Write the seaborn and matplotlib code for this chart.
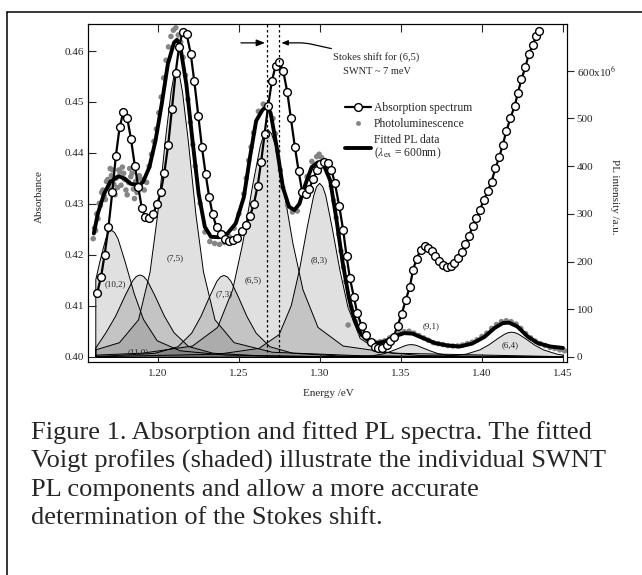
import matplotlib
matplotlib.use("Agg")
import matplotlib.pyplot as plt
import seaborn as sns
from matplotlib.lines import Line2D

# absorption spectrum (open circles, left axis)
abs_energy = [1.1625, 1.1648, 1.1670, 1.1694, 1.1718, 1.1740, 1.1763, 1.1786, 1.1810, 1.1833,
              1.1857, 1.1878, 1.1900, 1.1922, 1.1944, 1.1968, 1.1994, 1.2017, 1.2039, 1.2063,
              1.2086, 1.2109, 1.2130, 1.2152, 1.2177, 1.2202, 1.2224, 1.2249, 1.2271, 1.2294,
              1.2316, 1.2337, 1.2362, 1.2387, 1.2411, 1.2436, 1.2461, 1.2486, 1.2516, 1.2543,
              1.2568, 1.2592, 1.2615, 1.2637, 1.2658, 1.2680, 1.2703, 1.2726, 1.2748, 1.2773,
              1.2798, 1.2820, 1.2845, 1.2868, 1.2890, 1.2912, 1.2934, 1.2957, 1.2980, 1.3003,
              1.3026, 1.3049, 1.3071, 1.3092, 1.3119, 1.3143, 1.3164, 1.3185, 1.3209, 1.3230,
              1.3257, 1.3283, 1.3312, 1.3339, 1.3359, 1.3386, 1.3411, 1.3434, 1.3456, 1.3479,
              1.3504, 1.3530, 1.3555, 1.3575, 1.3596, 1.3621, 1.3646, 1.3670, 1.3692, 1.3713,
              1.3735, 1.3760, 1.3783, 1.3806, 1.3830, 1.3853, 1.3876, 1.3898, 1.3920, 1.3943,
              1.3966, 1.3988, 1.4011, 1.4036, 1.4059, 1.4083, 1.4108, 1.4128, 1.4151, 1.4176,
              1.4202, 1.4221, 1.4244, 1.4268, 1.4289, 1.4314, 1.4334, 1.4355]
abs_absorbance = [0.4126, 0.4156, 0.4199, 0.4254, 0.4323, 0.4394, 0.4450, 0.4480, 0.4469, 0.4428,
                  0.4375, 0.4334, 0.4292, 0.4274, 0.4272, 0.4280, 0.4299, 0.4323, 0.4361, 0.4416,
                  0.4486, 0.4557, 0.4608, 0.4638, 0.4633, 0.4595, 0.4541, 0.4473, 0.4412, 0.4359,
                  0.4314, 0.4280, 0.4254, 0.4241, 0.4231, 0.4228, 0.4229, 0.4234, 0.4246, 0.4259,
                  0.4276, 0.4300, 0.4335, 0.4383, 0.4437, 0.4492, 0.4541, 0.4571, 0.4578, 0.4561,
                  0.4520, 0.4469, 0.4412, 0.4365, 0.4324, 0.4320, 0.4330, 0.4348, 0.4366, 0.4378,
                  0.4383, 0.4380, 0.4366, 0.4341, 0.4296, 0.4249, 0.4198, 0.4154, 0.4118, 0.4086,
                  0.4061, 0.4043, 0.4030, 0.4020, 0.4017, 0.4017, 0.4024, 0.4031, 0.4040, 0.4061,
                  0.4084, 0.4112, 0.4138, 0.4171, 0.4192, 0.4210, 0.4218, 0.4213, 0.4208, 0.4198,
                  0.4189, 0.4180, 0.4176, 0.4178, 0.4185, 0.4194, 0.4206, 0.4222, 0.4237, 0.4257,
                  0.4272, 0.4288, 0.4308, 0.4325, 0.4344, 0.4370, 0.4393, 0.4416, 0.4443, 0.4469,
                  0.4492, 0.4517, 0.4545, 0.4568, 0.4594, 0.4612, 0.4629, 0.4640]

# fitted PL curve (thick line, right axis)
fit_energy = [1.1604, 1.1629, 1.1667, 1.1705, 1.1756, 1.1794, 1.1832, 1.1883, 1.1908, 1.1947,
              1.1985, 1.2023, 1.2061, 1.2099, 1.2117, 1.2137, 1.2175, 1.2213, 1.2251, 1.2289,
              1.2327, 1.2378, 1.2429, 1.2480, 1.2530, 1.2568, 1.2606, 1.2645, 1.2670, 1.2695,
              1.2733, 1.2771, 1.2809, 1.2842, 1.2873, 1.2911, 1.2949, 1.2987, 1.3025, 1.3063,
              1.3101, 1.3139, 1.3178, 1.3216, 1.3254, 1.3304, 1.3355, 1.3406, 1.3457, 1.3520,
              1.3571, 1.3634, 1.3711, 1.3787, 1.3863, 1.3939, 1.4015, 1.4079, 1.4129, 1.4167,
              1.4218, 1.4282, 1.4345, 1.4421, 1.4500]
fit_pl = [259, 301, 342, 367, 379, 374, 363, 360, 367, 398,
          454, 530, 614, 659, 665, 652, 572, 454, 342, 273,
          252, 251, 259, 280, 335, 419, 495, 518, 525, 512,
          440, 356, 315, 308, 321, 363, 398, 408, 401, 370,
          290, 200, 125, 75, 47, 33, 29, 33, 43, 50,
          49, 40, 29, 24, 22, 28, 42, 61, 71, 72,
          64, 43, 29, 22, 19]

# measured photoluminescence (grey dots, right axis)
pl_energy = [1.1600, 1.1608, 1.1615, 1.1622, 1.1630, 1.1638, 1.1645, 1.1652, 1.1660, 1.1668,
             1.1675, 1.1682, 1.1690, 1.1698, 1.1705, 1.1712, 1.1720, 1.1728, 1.1735, 1.1742,
             1.1750, 1.1758, 1.1765, 1.1772, 1.1780, 1.1788, 1.1795, 1.1802, 1.1810, 1.1818,
             1.1825, 1.1832, 1.1840, 1.1848, 1.1855, 1.1862, 1.1870, 1.1878, 1.1885, 1.1892,
             1.1900, 1.1915, 1.1930, 1.1945, 1.1960, 1.1975, 1.1990, 1.2005, 1.2020, 1.2035,
             1.2050, 1.2065, 1.2080, 1.2095, 1.2110, 1.2125, 1.2140, 1.2155, 1.2170, 1.2185,
             1.2200, 1.2215, 1.2230, 1.2260, 1.2290, 1.2320, 1.2350, 1.2380, 1.2410, 1.2440,
             1.2470, 1.2500, 1.2530, 1.2545, 1.2560, 1.2575, 1.2590, 1.2620, 1.2650, 1.2680,
             1.2710, 1.2725, 1.2740, 1.2755, 1.2770, 1.2800, 1.2830, 1.2860, 1.2890, 1.2920,
             1.2950, 1.2980, 1.2995, 1.3010, 1.3025, 1.3040, 1.3070, 1.3085, 1.3100, 1.3115,
             1.3130, 1.3145, 1.3160, 1.3174, 1.3190, 1.3220, 1.3250, 1.3280, 1.3310, 1.3340,
             1.3370, 1.3400, 1.3430, 1.3460, 1.3490, 1.3520, 1.3550, 1.3580, 1.3610, 1.3640,
             1.3670, 1.3700, 1.3730, 1.3760, 1.3790, 1.3820, 1.3850, 1.3880, 1.3910, 1.3940,
             1.3970, 1.4000, 1.4030, 1.4060, 1.4090, 1.4120, 1.4150, 1.4180, 1.4210, 1.4240,
             1.4270, 1.4300, 1.4330, 1.4360, 1.4390, 1.4420, 1.4450, 1.4480, 1.4510]
pl_intensity = [248, 270, 265, 300, 290, 322, 318, 345, 350, 338,
                330, 368, 372, 355, 395, 380, 392, 362, 340, 375,
                355, 392, 388, 360, 398, 385, 372, 350, 340, 366,
                395, 378, 385, 352, 332, 368, 345, 375, 380, 358,
                372, 350, 366, 400, 425, 452, 478, 512, 545, 585,
                622, 650, 672, 685, 690, 675, 660, 628, 590, 540,
                492, 445, 400, 322, 262, 242, 238, 236, 240, 252,
                270, 300, 342, 375, 412, 440, 470, 515, 530, 528,
                500, 468, 432, 392, 356, 318, 304, 306, 342, 378,
                410, 420, 425, 418, 412, 400, 358, 328, 292, 258,
                222, 188, 158, 67, 105, 74, 50, 40, 33, 31,
                32, 34, 40, 45, 50, 53, 54, 50, 45, 40,
                35, 30, 28, 26, 24, 23, 23, 25, 28, 31,
                36, 43, 50, 60, 68, 74, 76, 74, 69, 60,
                49, 40, 33, 28, 24, 20, 18, 15, 13]

# fitted Voigt components (energy, PL intensity)
c102_e = [1.1613, 1.1639, 1.1674, 1.1691, 1.1708, 1.1729, 1.1751, 1.1793, 1.1850, 1.1907, 1.1992, 1.2134, 1.2418, 1.3000, 1.4497]
c102_pl = [163, 202, 248, 262, 267, 262, 248, 202, 134, 80, 35, 14, 5, 1.6, 0.4]
c110_e = [1.1613, 1.1676, 1.1736, 1.1796, 1.1841, 1.1864, 1.1886, 1.1908, 1.1931, 1.1976, 1.2036, 1.2096, 1.2186, 1.2336, 1.2636, 1.3300, 1.4497]
c110_pl = [20, 52, 87, 131, 161, 170, 173, 170, 161, 131, 87, 52, 23, 9, 3.3, 1.2, 0.4]
c75_e = [1.1613, 1.1759, 1.1877, 1.1948, 1.1995, 1.2042, 1.2078, 1.2095, 1.2113, 1.2131, 1.2148, 1.2184, 1.2231, 1.2278, 1.2349, 1.2467, 1.2703, 1.3300, 1.4497]
c75_pl = [16, 31, 79, 179, 300, 454, 557, 589, 600, 589, 557, 454, 300, 179, 79, 31, 11, 3, 0.7]
c73_e = [1.1613, 1.1694, 1.1978, 1.2120, 1.2205, 1.2262, 1.2319, 1.2361, 1.2383, 1.2404, 1.2425, 1.2447, 1.2489, 1.2546, 1.2603, 1.2688, 1.2830, 1.3114, 1.4497]
c73_pl = [2.7, 3.3, 8.8, 22.5, 51, 86, 130, 160, 169, 172, 169, 160, 130, 86, 51, 22.5, 8.8, 3.3, 0.4]
c65_e = [1.1613, 1.1900, 1.2210, 1.2365, 1.2458, 1.2520, 1.2582, 1.2629, 1.2652, 1.2675, 1.2698, 1.2722, 1.2768, 1.2830, 1.2892, 1.2985, 1.3140, 1.3450, 1.4497]
c65_pl = [5, 9, 24, 63, 142, 239, 362, 444, 469, 478, 469, 444, 362, 239, 142, 63, 24, 9, 1.7]
c83_e = [1.1613, 1.2370, 1.2620, 1.2745, 1.2820, 1.2870, 1.2920, 1.2958, 1.2976, 1.2995, 1.3014, 1.3033, 1.3070, 1.3120, 1.3170, 1.3245, 1.3370, 1.3620, 1.4497]
c83_pl = [1.5, 7, 19, 48, 109, 183, 276, 339, 358, 365, 358, 339, 276, 183, 105, 40, 12, 4, 0.8]
c91_e = [1.1613, 1.2960, 1.3200, 1.3320, 1.3392, 1.3440, 1.3488, 1.3524, 1.3542, 1.3560, 1.3578, 1.3596, 1.3632, 1.3680, 1.3728, 1.3800, 1.3920, 1.4160, 1.4497]
c91_pl = [0.1, 0.5, 1.4, 3.5, 8, 13.5, 20, 25, 26.5, 27, 26.5, 25, 20, 13.5, 8, 3.5, 1.4, 0.5, 0.2]
c64_e = [1.1613, 1.3480, 1.3760, 1.3900, 1.3984, 1.4040, 1.4096, 1.4138, 1.4159, 1.4180, 1.4201, 1.4222, 1.4264, 1.4320, 1.4376, 1.4460, 1.4497]
c64_pl = [0.1, 1, 2.7, 7, 16, 26.5, 40, 49, 52, 53, 52, 49, 40, 26.5, 16, 7, 5]

comp_names = ["(10,2)", "(11,0)", "(7,5)", "(7,3)", "(6,5)", "(8,3)", "(9,1)", "(6,4)"]
# where each chirality label sits (energy, PL)
label_pos = [(1.1737, 153), (1.1880, 11), (1.2105, 207), (1.2407, 132),
             (1.2588, 161), (1.2995, 203), (1.3689, 64), (1.4172, 25)]

# PL peak and absorption peak of (6,5)
stokes_energy = [1.2674, 1.2746]

caption = ["Figure 1. Absorption and fitted PL spectra. The fitted",
           "Voigt profiles (shaded) illustrate the individual SWNT",
           "PL components and allow a more accurate",
           "determination of the Stokes shift."]

sns.set_style("ticks")
plt.rcParams["font.family"] = ["Liberation Serif", "DejaVu Serif"]
plt.rcParams["mathtext.fontset"] = "stix"

W, H = 642, 575
fig = plt.figure(figsize=(W / 100, H / 100), dpi=100)
ax = fig.add_axes([88 / W, 1 - 362 / H, (567 - 88) / W, (362 - 24) / H])
ax2 = ax.twinx()

# outer frame of the figure box (left and top edges)
frame_kw = dict(color="black", lw=1.1, transform=fig.transFigure)
fig.add_artist(Line2D([7 / W, 7 / W], [0, 1 - 12 / H], **frame_kw))
fig.add_artist(Line2D([7 / W, 1], [1 - 12 / H, 1 - 12 / H], **frame_kw))

# shaded components
components = [(c102_e, c102_pl), (c110_e, c110_pl), (c75_e, c75_pl), (c73_e, c73_pl),
              (c65_e, c65_pl), (c83_e, c83_pl), (c91_e, c91_pl), (c64_e, c64_pl)]
for e, v in components:
    ax2.fill_between(e, v, 0, facecolor=(0, 0, 0, 0.12), edgecolor="black",
                     linewidth=0.7, zorder=1)

for name, (xe, yp) in zip(comp_names, label_pos):
    ax2.text(xe, yp, name, fontsize=6.5, ha="center", va="center", zorder=6)

sns.scatterplot(x=pl_energy, y=pl_intensity, s=16, color="#858585", edgecolor="none",
                ax=ax2, zorder=3, legend=False)
sns.lineplot(x=fit_energy, y=fit_pl, color="black", linewidth=2.8, sort=False,
             estimator=None, ax=ax2, zorder=4)

sns.lineplot(x=abs_energy, y=abs_absorbance, color="black", linewidth=1.6, marker="o",
             markersize=5.6, markerfacecolor="white", markeredgecolor="black",
             markeredgewidth=1.0, sort=False, estimator=None, ax=ax, zorder=5)

# keep the absorption axes on top of the PL axes
ax.set_zorder(ax2.get_zorder() + 1)
ax.patch.set_visible(False)

ax.vlines(stokes_energy, 0.40, 0.4653, colors="black", linestyles=(0, (2, 2)),
          linewidth=0.9, zorder=6)
ax.annotate("", xy=(1.2660, 0.4616), xytext=(1.2512, 0.4616),
            arrowprops=dict(arrowstyle="-|>,head_length=0.5,head_width=0.2",
                            color="black", lw=0.9, shrinkA=0, shrinkB=0))
ax.annotate("Stokes shift for (6,5)", xy=(1.2762, 0.4616), xytext=(1.3080, 0.4588),
            fontsize=7.5, ha="left", va="center",
            arrowprops=dict(arrowstyle="-|>,head_length=0.5,head_width=0.2",
                            color="black", lw=0.9, shrinkA=1, shrinkB=0,
                            connectionstyle="arc,angleA=180,armA=6,angleB=0,armB=24,rad=6"))
ax.text(1.3141, 0.4559, "SWNT ~ 7 meV", fontsize=7.5, ha="left", va="center")

ax.set_xlim(1.1568, 1.4525)
ax.set_ylim(0.399, 0.4653)
ax2.set_ylim(-10.5, 698)

ax.set_xticks([1.20, 1.25, 1.30, 1.35, 1.40, 1.45])
ax.set_xticklabels(["1.20", "1.25", "1.30", "1.35", "1.40", "1.45"])
ax.set_yticks([0.40, 0.41, 0.42, 0.43, 0.44, 0.45, 0.46])
ax.set_yticklabels(["0.40", "0.41", "0.42", "0.43", "0.44", "0.45", "0.46"])
ax2.set_yticks([0, 100, 200, 300, 400, 500, 600])
ax2.set_yticklabels(["0", "100", "200", "300", "400", "500", r"600x10$^{6}$"])

ax.tick_params(axis="both", direction="in", length=6, width=0.8, labelsize=8,
               top=True, right=False, pad=3)
ax.tick_params(axis="x", pad=5)
ax2.tick_params(axis="y", direction="out", length=5, width=0.8, labelsize=8, pad=2)
for a in (ax, ax2):
    for sp in a.spines.values():
        sp.set_linewidth(0.8)
        sp.set_color("black")
        sp.set_visible(True)

ax.set_xlabel("")
ax.set_ylabel("")
ax2.set_ylabel("")
fig.text(39 / W, 1 - 197 / H, "Absorbance", rotation=90, ha="center", va="center", fontsize=8)
fig.text(614 / W, 1 - 197 / H, "PL intensity /a.u.", rotation=270, ha="center", va="center",
         fontsize=8)
fig.text(328 / W, 1 - 394 / H, "Energy /eV", ha="center", va="center", fontsize=8)

handles = [Line2D([], [], color="black", lw=1.6, marker="o", markersize=5.6,
                  markerfacecolor="white", markeredgecolor="black"),
           Line2D([], [], ls="none", marker="o", markersize=3.5, color="#858585",
                  markeredgecolor="none"),
           Line2D([], [], color="black", lw=2.8)]
labels = ["Absorption spectrum", "Photoluminescence",
          "Fitted PL data\n" + r"($\lambda_{\rm ex}$ = 600nm)"]
leg = ax.legend(handles, labels, loc="upper left", bbox_to_anchor=(345 / W, 1 - 102 / H),
                bbox_transform=fig.transFigure, frameon=False, fontsize=8.4,
                handlelength=2.2, handletextpad=0.3, labelspacing=0.35, borderpad=0,
                borderaxespad=0, numpoints=1)
for t in leg.get_texts():
    t.set_linespacing(0.95)

for i, line in enumerate(caption):
    fig.text(31 / W, 1 - (433 + 28.5 * i) / H, line, ha="left", va="center", fontsize=19.0)

fig.savefig("out.png", dpi=100)
